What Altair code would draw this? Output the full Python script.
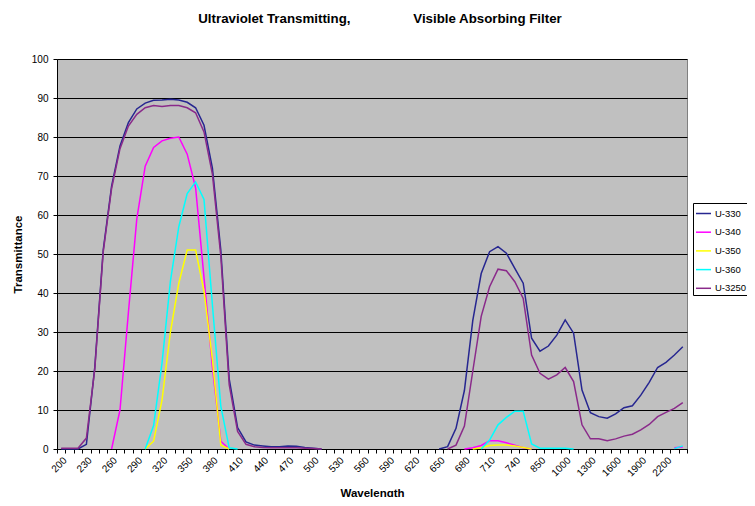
import altair as alt
import pandas as pd

# ---- categories (x axis is a category axis) ----
wavelengths = list(range(200, 760, 10)) + [800, 850, 900, 950, 1000, 1100, 1200, 1300, 1400,
                                           1500, 1600, 1700, 1800, 1900, 2000, 2100, 2200, 2300, 2400]
label_values = wavelengths[::3]

N = None
u330 = [0, 0, 0, 1.2, 21, 51, 67.4, 77.7, 83.7, 87.2, 88.7, 89.4, 89.5, 89.7, 89.5, 88.9, 87.5, 83, 72, 51,
        18, 5.5, 1.8, 1.0, 0.8, 0.6, 0.6, 0.8, 0.7, 0.4, 0.2, 0,
        N, N, N, N, N, N, N, N, N, N, N, N, N,
        0, 0.6, 5.3, 15, 33, 45, 50.6, 51.9, 50.2, 46.3, 42.5, 28.4, 25.1, 26.4, 29.2, 33.1, 29.7, 15.1,
        9.3, 8.3, 7.9, 9.0, 10.6, 11.1, 13.8, 17.1, 20.9, 22.2, 24.1, 26.2]
u340 = [N, N, N, N, N, N,
        0, 10, 35, 59, 72.5, 77.3, 79, 79.7, 80, 75.6, 67, 44, 21, 2, 0,
        N, N, N, N, N, N, N, N, N, N, N, N, N, N, N, N, N, N, N, N, N, N, N, N, N, N, N,
        0, 0.3, 0.9, 2.1, 2.1, 1.6, 1.0, 0.3, 0,
        N, N, N, N, N, N, N, N, N, N, N, N, N, N, N, N,
        0.3, 0.5]
u350 = [N, N, N, N, N, N, N, N, N, N,
        0, 2, 12.5, 30, 42.5, 51, 51, 40.5, 23, 1, 0,
        N, N, N, N, N, N, N, N, N, N, N, N, N, N, N, N, N, N, N, N, N, N, N, N, N, N, N, N,
        0, 0.3, 0.9, 1.0, 1.0, 0.8, 0.4, 0,
        N, N, N, N, N, N, N, N, N, N, N, N, N, N, N, N, N, N]
u360 = [N, N, N, N, N, N, N, N, N, N,
        0, 6, 22, 43, 57, 65.5, 68.5, 64, 37, 11, 0.3, 0,
        N, N, N, N, N, N, N, N, N, N, N, N, N, N, N, N, N, N, N, N, N, N, N, N, N, N, N, N,
        0, 2.3, 6.2, 8.1, 9.7, 9.7, 1.3, 0.2, 0.2, 0.2, 0.2, 0,
        N, N, N, N, N, N, N, N, N, N, N,
        0.1, 0.8]
u3250 = [0.2, 0.2, 0.2, 2.8, 20.5, 50.5, 66.8, 77, 82.8, 85.8, 87.5, 88.1, 87.8, 88.1, 88.1, 87.5, 86.2,
         81.3, 70.5, 49.5, 16.5, 4.5, 1.2, 0.6, 0.4, 0.3, 0.3, 0.3, 0.3, 0.2, 0.1, 0,
         N, N, N, N, N, N, N, N, N, N, N, N, N, N,
         0, 1.0, 5.9, 20, 34, 41.6, 46.1, 45.7, 42.9, 38.6, 24.1, 19.4, 17.9, 19, 20.9, 17.3, 6.2,
         2.6, 2.6, 2.1, 2.6, 3.3, 3.8, 4.9, 6.3, 8.3, 9.4, 10.4, 11.9]

series_names = ["U-330", "U-340", "U-350", "U-360", "U-3250"]
series_values = [u330, u340, u350, u360, u3250]
series_colors = ["#262690", "#FF00FF", "#FFFF00", "#00FFFF", "#8a2a8a"]

rows = []
for name, vals in zip(series_names, series_values):
    seg = 0
    prev_none = True
    for wl, v in zip(wavelengths, vals):
        if v is None:
            prev_none = True
            continue
        if prev_none:
            seg += 1
            prev_none = False
        rows.append({"wl": wl, "series": name, "value": v, "seg": f"{name}-{seg}"})
df = pd.DataFrame(rows)

FONT = "Liberation Sans"
label_expr = "indexof([" + ",".join(str(v) for v in label_values) + "], datum.value) >= 0 ? datum.label : ''"

x_enc = alt.X("wl:O", sort=wavelengths, bandPosition=0.5,
              scale=alt.Scale(type="band", paddingInner=0, paddingOuter=0, domain=wavelengths),
              axis=alt.Axis(title="Wavelength", labelAngle=-45, labelExpr=label_expr, tickBand="extent",
                            tickSize=4, tickColor="black", domainColor="black", labelColor="black",
                            labelFontSize=10, labelFont=FONT, labelPadding=2, labelOverlap=False, grid=False,
                            titleFont=FONT, titleFontSize=11.5, titleFontWeight="bold", titleColor="black",
                            titleX=315, titleY=44, titleBaseline="middle", titleAlign="center"))
y_enc = alt.Y("value:Q", scale=alt.Scale(domain=[0, 100], nice=False),
              axis=alt.Axis(title="Transmittance", values=list(range(0, 101, 10)), grid=True,
                            gridColor="black", gridWidth=1, tickSize=4, tickColor="black",
                            domainColor="black", labelColor="black", labelFontSize=10, labelFont=FONT,
                            labelPadding=5, titleFont=FONT, titleFontSize=11.5, titleFontWeight="bold",
                            titleColor="black", titleX=-39, titleY=195, titleAngle=-90,
                            titleBaseline="middle", titleAlign="center"))
color_enc = alt.Color("series:N", scale=alt.Scale(domain=series_names, range=series_colors),
                      legend=alt.Legend(title=None, orient="none", legendX=636, legendY=144,
                                        symbolType="stroke", symbolSize=225, symbolStrokeWidth=1.5,
                                        labelFontSize=9.5, labelFont=FONT, labelColor="black",
                                        fillColor="white", strokeColor="black", padding=2,
                                        rowPadding=5.7, labelOffset=3, direction="vertical"))

base = alt.Chart(df)
layers = []
for name in series_names:
    layers.append(base.transform_filter(alt.datum.series == name).mark_line(strokeWidth=1.5).encode(
        x=x_enc, y=y_enc, color=color_enc, detail="seg:N"))

title_text = "Ultraviolet Transmitting," + "\u00a0" * 17 + "Visible Absorbing Filter"
chart = alt.layer(*layers).properties(
    width=630, height=390,
    padding={"left": 49, "top": 51, "right": 60, "bottom": 48},
    autosize=alt.AutoSizeParams(type="none"),
    title=alt.TitleParams(title_text, font=FONT, fontSize=13.3, fontWeight="bold", color="black",
                          anchor="middle", dx=8, offset=29),
    background="white",
).configure_view(fill="#C0C0C0", stroke="#808080", strokeWidth=1)

chart.save("out.html", embed_options={"renderer": "svg", "actions": False})
